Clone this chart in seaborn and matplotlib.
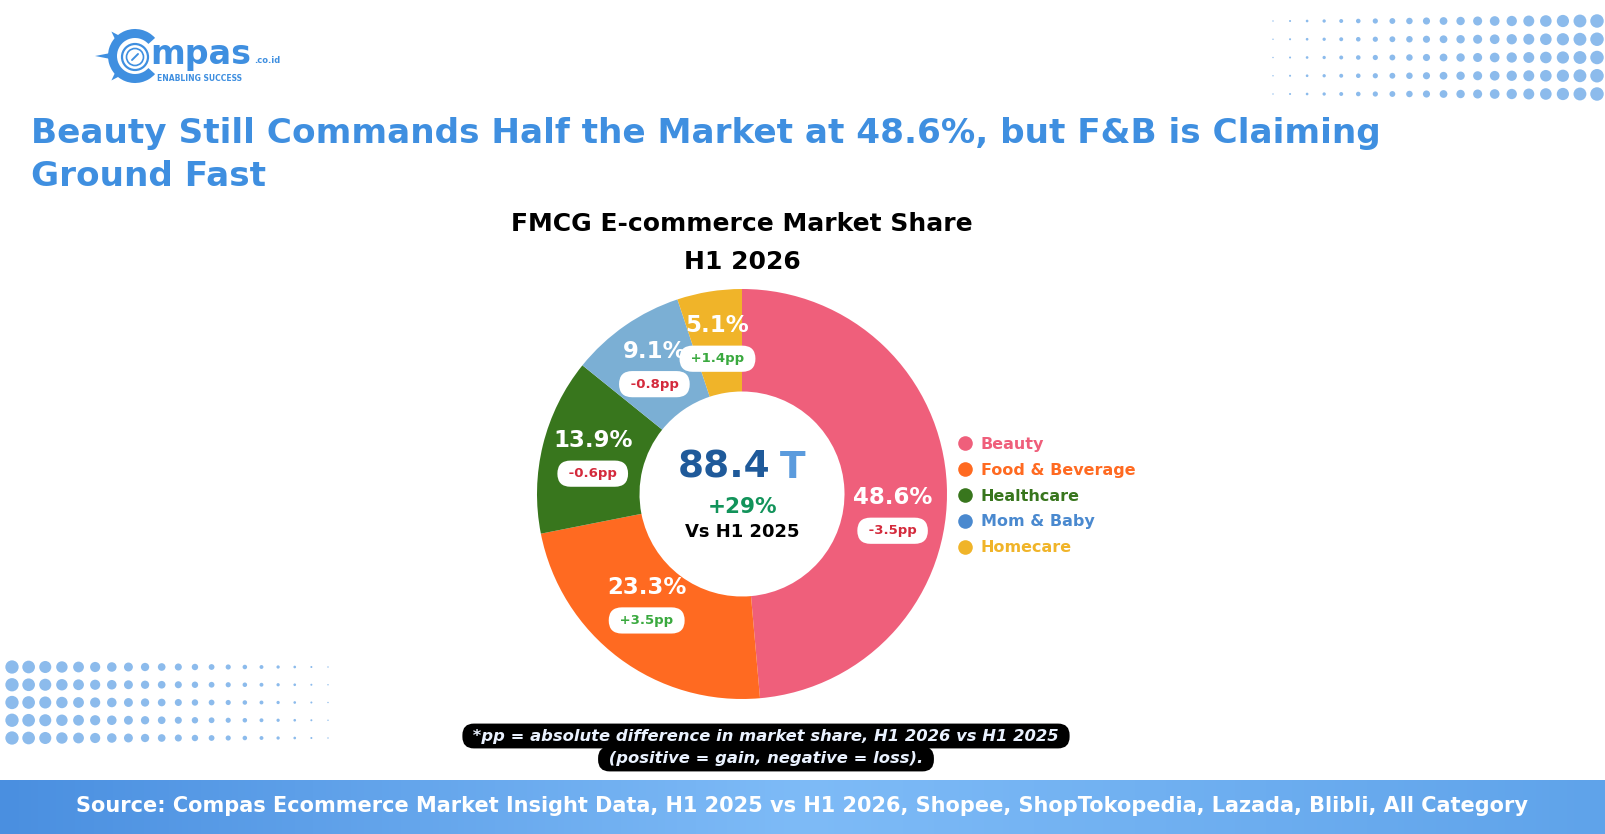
import numpy as np
import pandas as pd
import matplotlib
matplotlib.use("Agg")
import matplotlib.pyplot as plt
from matplotlib.lines import Line2D
from matplotlib.patches import Wedge, Circle, Polygon
from matplotlib.colors import LinearSegmentedColormap
import seaborn as sns

# ==========================
# Data
# ==========================

categories = ["Beauty", "Food & Beverage", "Healthcare", "Mom & Baby", "Homecare"]
shares = [48.6, 23.3, 13.9, 9.1, 5.1]
pp_change = [-3.5, 3.5, -0.6, -0.8, 1.4]

total_value = "88.4"
total_unit = "T"
growth_label = "+29%"
compare_label = "Vs H1 2025"

title_lines = [
    "Beauty Still Commands Half the Market at 48.6%, but F&B is Claiming",
    "Ground Fast",
]
chart_title = ["FMCG E-commerce Market Share", "H1 2026"]
note_lines = [
    "*pp = absolute difference in market share, H1 2026 vs H1 2025",
    "(positive = gain, negative = loss).",
]
source_text = ("Source: Compas Ecommerce Market Insight Data, H1 2025 vs H1 2026, "
               "Shopee, ShopTokopedia, Lazada, Blibli, All Category")

# ==========================
# Style
# ==========================

slice_colors = ["#EF5F7B", "#FF6A21", "#38761D", "#7BAFD4", "#F0B429"]
legend_colors = ["#EF5F7B", "#FF6A21", "#38761D", "#4A89CF", "#F0B429"]
brand_blue = "#3F8FE0"
dot_blue = "#8CBBEC"
neg_color = "#D42A3C"
pos_color = "#3AA93F"

# label nudges in pixels (dx, dy down)
label_nudge = [(-3, 27), (-3, -13), (0, 0), (0, 0), (0, 0)]

sns.set_theme(style="white")
plt.rcParams["font.family"] = ["DejaVu Sans"]

W, H = 1605, 834
fig = plt.figure(figsize=(W / 100, H / 100), dpi=100)
fig.patch.set_facecolor("white")

# background / decoration axes in pixel coordinates
bg = fig.add_axes([0, 0, 1, 1], zorder=0)
bg.set_xlim(0, W)
bg.set_ylim(H, 0)
bg.axis("off")

# ==========================
# Dot decorations
# ==========================

def dot_grid(x0, x1, y0, y1, d0, d1):
    xs = np.linspace(x0, x1, 20)
    ys = np.linspace(y0, y1, 5)
    ds = np.linspace(d0, d1, 20)
    gx, gy = np.meshgrid(xs, ys)
    gd = np.tile(ds, (5, 1))
    return pd.DataFrame({"x": gx.ravel(), "y": gy.ravel(),
                         "s": (gd.ravel() * 0.72) ** 2})

for grid in [dot_grid(1273, 1597, 21, 94, 1.4, 13.5),
             dot_grid(12, 328, 667, 738, 13.3, 1.4)]:
    sns.scatterplot(data=grid, x="x", y="y", s=grid["s"], color=dot_blue,
                    linewidth=0, ax=bg, legend=False)

# ==========================
# Logo
# ==========================

cx, cy = 135, 56
bg.add_patch(Wedge((cx, cy), 27, 42, 318, width=9, color=brand_blue, lw=0))
bg.add_patch(Circle((cx, cy + 1), 13, fill=False, ec=brand_blue, lw=1.6))
bg.add_patch(Circle((cx, cy + 1), 8.5, fill=False, ec=brand_blue, lw=1.2))
bg.plot([cx - 3, cx + 3], [cy + 4, cy - 2], color=brand_blue, lw=1.4)
for ang, tip in [(134, 34), (180, 40), (226, 34)]:
    a = np.deg2rad(ang)
    da = np.deg2rad(6)
    pts = [(cx + 26 * np.cos(a - da), cy - 26 * np.sin(a - da)),
           (cx + tip * np.cos(a), cy - tip * np.sin(a)),
           (cx + 26 * np.cos(a + da), cy - 26 * np.sin(a + da))]
    bg.add_patch(Polygon(pts, closed=True, color=brand_blue, lw=0))
logo = bg.text(150, 64, "mpas", fontsize=24, fontweight="bold",
               color=brand_blue, va="baseline", ha="left")
bg.annotate(".co.id", xy=(1, 0), xycoords=logo, xytext=(2, 4),
            textcoords="offset points", fontsize=6, fontweight="bold",
            color=brand_blue, va="bottom", ha="left")
bg.text(157, 78, "ENABLING SUCCESS", fontsize=5.5, fontweight="bold",
        color=brand_blue, va="center", ha="left")

# ==========================
# Titles
# ==========================

bg.text(31, 133, title_lines[0], fontsize=24.7, fontweight="bold",
        color=brand_blue, va="center", ha="left")
bg.text(31, 176, title_lines[1], fontsize=24.7, fontweight="bold",
        color=brand_blue, va="center", ha="left")
bg.text(742, 224, chart_title[0], fontsize=18, fontweight="bold",
        color="black", va="center", ha="center")
bg.text(742, 262, chart_title[1], fontsize=18, fontweight="bold",
        color="black", va="center", ha="center")

# ==========================
# Footnote and footer
# ==========================

for y, line in zip([736, 759], note_lines):
    bg.text(766, y, f" {line} ", fontsize=11.8, fontweight="bold",
            style="italic", color="#EAF2FF", ha="center", va="center",
            bbox=dict(boxstyle="round,pad=0.3,rounding_size=0.7",
                      fc="black", ec="none"))

footer_cmap = LinearSegmentedColormap.from_list(
    "footer", ["#4A8FE0", "#7EBBF7", "#5FA3EA"])
bg.imshow(np.linspace(0, 1, 256)[None, :], cmap=footer_cmap,
          extent=(0, W, H, 780), aspect="auto", zorder=1)
bg.set_xlim(0, W)
bg.set_ylim(H, 0)
bg.text(802, 806, source_text, fontsize=15, fontweight="bold", color="white",
        ha="center", va="center", zorder=2)

# ==========================
# Donut
# ==========================

R = 205
pcx, pcy = 742, 494
ax = fig.add_axes([(pcx - R) / W, (H - pcy - R) / H, 2 * R / W, 2 * R / H],
                  zorder=1)
wedges, _ = ax.pie(shares, colors=slice_colors, startangle=90,
                   counterclock=False, radius=1,
                   wedgeprops=dict(width=0.5, edgecolor="none", linewidth=0))
ax.set_xlim(-1, 1)
ax.set_ylim(-1, 1)
ax.axis("off")

for w, share, pp, (nx, ny) in zip(wedges, shares, pp_change, label_nudge):
    mid = np.deg2rad((w.theta1 + w.theta2) / 2)
    lx = 0.75 * np.cos(mid) + nx / R
    ly = 0.75 * np.sin(mid) - ny / R
    ax.text(lx, ly + 16.5 / R, f"{share:.1f}%", fontsize=16.5,
            fontweight="bold", color="white", ha="center", va="center")
    ax.text(lx, ly - 16.5 / R, f" {pp:+.1f}pp ", fontsize=9.5,
            fontweight="bold", color=pos_color if pp > 0 else neg_color,
            ha="center", va="center",
            bbox=dict(boxstyle="round,pad=0.5,rounding_size=1.0",
                      fc="white", ec="none"))

t1 = ax.text(0.139, 26 / R, total_value, fontsize=27, fontweight="bold",
             color="#1F5A9A", ha="right", va="center")
ax.annotate(total_unit, xy=(1, 0), xycoords=t1, xytext=(7, 0),
            textcoords="offset points", fontsize=27, fontweight="bold",
            color="#5B9BDD", ha="left", va="bottom")
ax.text(0, -13 / R, growth_label, fontsize=15.5, fontweight="bold",
        color="#12935A", ha="center", va="center")
ax.text(0, -38 / R, compare_label, fontsize=13, fontweight="bold",
        color="black", ha="center", va="center")

# ==========================
# Legend
# ==========================

handles = [Line2D([0], [0], marker="o", ls="none", markersize=10.5,
                  markerfacecolor=c, markeredgecolor="none")
           for c in legend_colors]
fig.legend(handles, categories, loc="center left",
           bbox_to_anchor=(957 / W, (H - 496) / H), frameon=False,
           prop=dict(weight="bold", size=11.5), labelcolor=legend_colors,
           handlelength=1.0, handletextpad=0.5, labelspacing=0.68,
           borderpad=0, borderaxespad=0)

fig.savefig("out.png", dpi=100, facecolor="white")
